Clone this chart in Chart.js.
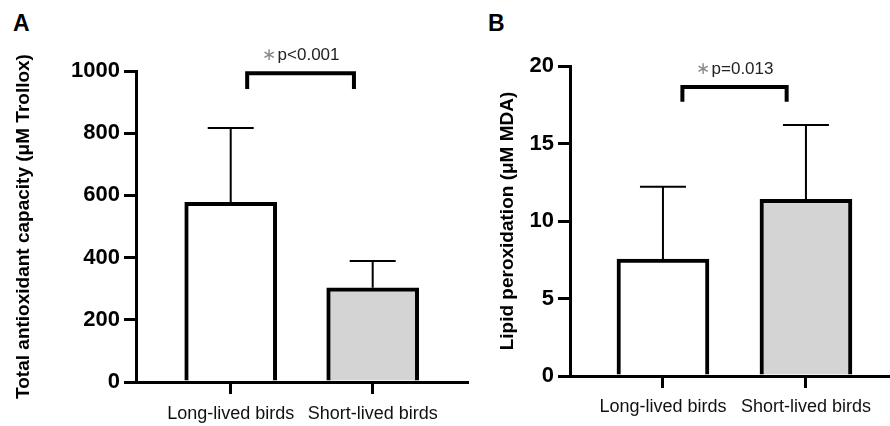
<!DOCTYPE html>
<html>
<head>
<meta charset="utf-8">
<script src="https://cdn.jsdelivr.net/npm/chart.js@4.4.1/dist/chart.umd.min.js"></script>
<style>
  html, body { margin: 0; padding: 0; background: #fff; width: 890px; height: 426px; overflow: hidden; position: relative; }
  canvas { position: absolute; top: 0; }
  #cA { left: 0; }
  #cB { left: 445px; }
  .panel { position: absolute; font-family: "Liberation Sans", Arial, sans-serif; font-weight: bold; font-size: 23px; line-height: 23px; color: #000; }
</style>
</head>
<body>
<div class="panel" style="left:13px; top:12px;">A</div>
<div class="panel" style="left:488px; top:12px;">B</div>
<canvas id="cA" width="480" height="426"></canvas>
<canvas id="cB" width="460" height="426"></canvas>
<script>
// ---- data ----
const categories = ['Long-lived birds', 'Short-lived birds'];
const antioxMean = [578, 303];
const antioxSD = [239, 86];
const antioxTicks = [0, 200, 400, 600, 800, 1000];
const antioxSig = '∗p<0.001';
const antioxBracket = [993, 942];   // bracket top, leg end (µM Trollox)

const lipidMean = [7.55, 11.4];
const lipidSD = [4.66, 4.79];
const lipidTicks = [0, 5, 10, 15, 20];
const lipidSig = '∗p=0.013';
const lipidBracket = [18.65, 17.7]; // bracket top, leg end (µM MDA)

const fills = ['#ffffff', '#d4d4d4'];
const FONT = '"Liberation Sans", Arial, sans-serif';

const errorBarPlugin = {
  id: 'errorBars',
  afterDatasetsDraw(chart, args, opts) {
    const {ctx, scales: {x, y}} = chart;
    ctx.save();
    ctx.strokeStyle = '#000';
    ctx.lineWidth = 2;
    ctx.lineCap = 'butt';
    opts.means.forEach((m, i) => {
      const px = x.getPixelForValue(i);
      const y0 = y.getPixelForValue(m);
      const y1 = y.getPixelForValue(m + opts.sds[i]);
      ctx.beginPath();
      ctx.moveTo(px, y0);
      ctx.lineTo(px, y1);
      ctx.moveTo(px - opts.cap, y1);
      ctx.lineTo(px + opts.cap, y1);
      ctx.stroke();
    });
    ctx.restore();
  }
};

const bracketPlugin = {
  id: 'sigBracket',
  afterDatasetsDraw(chart, args, opts) {
    const {ctx, scales: {x, y}} = chart;
    const xl = x.getPixelForValue(opts.xs[0]);
    const xr = x.getPixelForValue(opts.xs[1]);
    const yt = y.getPixelForValue(opts.levels[0]);
    const yb = y.getPixelForValue(opts.levels[1]);
    ctx.save();
    ctx.strokeStyle = '#000';
    ctx.lineWidth = 4;
    ctx.lineJoin = 'miter';
    ctx.lineCap = 'butt';
    ctx.beginPath();
    ctx.moveTo(xl, yb);
    ctx.lineTo(xl, yt);
    ctx.lineTo(xr, yt);
    ctx.lineTo(xr, yb);
    ctx.stroke();
    // label
    ctx.font = '17px ' + FONT;
    ctx.textBaseline = 'middle';
    const star = opts.text.charAt(0);
    const rest = opts.text.slice(1);
    const ws = ctx.measureText(star).width;
    const wr = ctx.measureText(rest).width;
    const cx = (xl + xr) / 2 + opts.dx;
    const left = cx - (ws + wr + 2) / 2;
    const ty = yt - 18;
    ctx.fillStyle = '#8a8a8a';
    ctx.fillText(star, left, ty);
    ctx.fillStyle = '#222';
    ctx.fillText(rest, left + ws + 2, ty);
    ctx.restore();
  }
};

function makePanel(id, means, sds, ticks, title, xRange, yAxisBox, pad, labelPad, sigText, bracketLevels, bracketXs, sigDx) {
  const yMax = ticks[ticks.length - 1];
  return new Chart(document.getElementById(id), {
    type: 'bar',
    data: {
      datasets: [{
        data: means.map((v, i) => ({x: i, y: v})),
        backgroundColor: fills,
        borderColor: '#000',
        borderWidth: 4,
        borderSkipped: 'start',
        barThickness: 92
      }]
    },
    options: {
      responsive: false,
      animation: false,
      events: [],
      layout: { padding: pad },
      plugins: {
        legend: { display: false },
        tooltip: { enabled: false },
        errorBars: { means: means, sds: sds, cap: 23 },
        sigBracket: { xs: bracketXs, levels: bracketLevels, text: sigText, dx: sigDx }
      },
      scales: {
        x: {
          type: 'linear',
          offset: false,
          min: xRange[0],
          max: xRange[1],
          afterBuildTicks: s => { s.ticks = categories.map((c, i) => ({value: i})); },
          afterFit: s => { s.height = yAxisBox.xh; },
          ticks: {
            callback: v => categories[v],
            color: '#111',
            font: { family: FONT, size: 18 },
            padding: labelPad,
            autoSkip: false,
            maxRotation: 0
          },
          grid: { offset: false, drawOnChartArea: false, drawTicks: true, tickLength: 12, lineWidth: 3, color: '#000' },
          border: { display: true, width: 3, color: '#000' }
        },
        y: {
          min: 0,
          max: yMax,
          afterBuildTicks: s => { s.ticks = ticks.map(v => ({value: v})); },
          afterFit: s => { s.width = yAxisBox.yw; },
          ticks: {
            callback: v => String(v),
            color: '#000',
            font: { family: FONT, size: 22, weight: 'bold' },
            padding: 4
          },
          grid: { drawOnChartArea: false, drawTicks: true, tickLength: 12, lineWidth: 3, color: '#000' },
          border: { display: true, width: 3, color: '#000' },
          title: {
            display: true,
            text: title,
            color: '#000',
            font: { family: FONT, size: 19, weight: 'bold' },
            padding: 0
          }
        }
      }
    },
    plugins: [errorBarPlugin, bracketPlugin]
  });
}

makePanel('cA', antioxMean, antioxSD, antioxTicks,
  'Total antioxidant capacity (μM Trollox)',
  [-0.667, 1.667], {yw: 123.4, xh: 44},
  {left: 12.6, top: 71, right: 12.6, bottom: 0}, 9,
  antioxSig, antioxBracket, [0.116, 0.868], 0);

makePanel('cB', lipidMean, lipidSD, lipidTicks,
  'Lipid peroxidation (μM MDA)',
  [-0.65, 1.65], {yw: 73.4, xh: 50},
  {left: 51.6, top: 66, right: 6.1, bottom: 0}, 8,
  lipidSig, lipidBracket, [0.136, 0.865], 0);
</script>
</body>
</html>
